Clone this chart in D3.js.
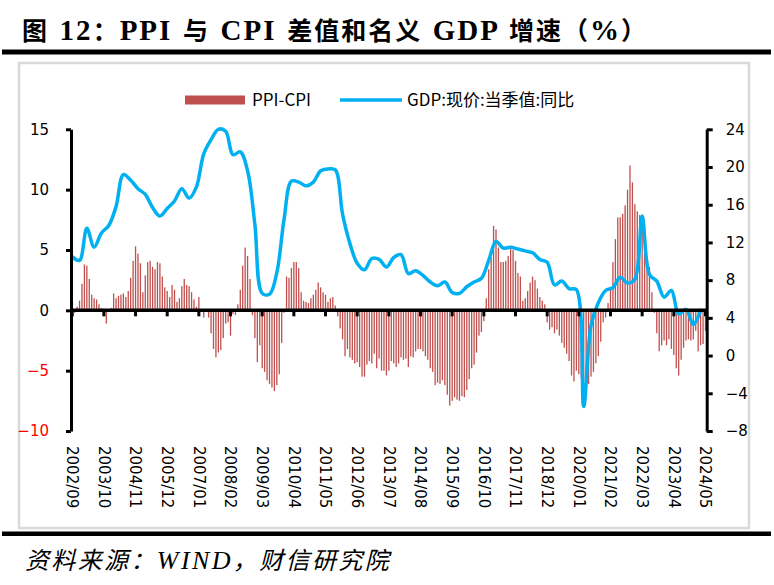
<!DOCTYPE html>
<html><head><meta charset="utf-8">
<script src="https://cdn.jsdelivr.net/npm/d3@7"></script>
<style>html,body{margin:0;padding:0;background:#fff;} svg{display:block;}</style>
</head><body>
<svg id="chart" width="774" height="585"></svg>
<script>
// ---------- data ----------
const xTickLabels = ["2002/09","2003/10","2004/11","2005/12","2007/01","2008/02","2009/03","2010/04","2011/05","2012/06","2013/07","2014/08","2015/09","2016/10","2017/11","2018/12","2020/01","2021/02","2022/03","2023/04","2024/05"];
const leftTicks = [-10, -5, 0, 5, 10, 15];
const rightTicks = [-8, -4, 0, 4, 8, 12, 16, 20, 24];
// PPI-CPI monthly, 2002/09 .. 2024/05
const ppiCpi = [
  -0.3,-0.2,0.3,0.8,
  2.2,3.8,3.7,2.6,1.3,1.0,0.9,0.5,0.2,-0.4,-1.1,-0.1,
  0.2,1.4,1.0,1.2,1.3,1.4,1.1,1.6,2.7,4.1,5.3,4.7,
  3.9,1.5,2.9,4.0,4.1,3.6,3.4,4.0,3.9,2.8,1.9,1.6,
  1.1,2.1,1.7,0.7,1.0,2.0,2.6,2.1,2.0,1.5,0.9,0.3,
  1.1,-0.1,-0.6,-0.1,-0.6,-1.9,-3.2,-3.9,-3.5,-3.3,-2.3,-1.1,
  -1.0,-2.1,-0.3,-0.4,0.5,1.7,3.7,5.2,4.5,2.6,-0.4,-2.3,
  -4.3,-2.9,-4.8,-5.1,-5.8,-6.1,-6.4,-6.7,-6.2,-5.3,-2.7,-0.2,
  2.8,2.7,3.5,4.0,4.0,3.5,1.5,0.8,0.7,0.6,1.0,1.3,
  1.7,2.3,1.9,1.5,1.3,0.7,1.0,1.1,0.4,-0.5,-1.5,-2.4,
  -3.8,-3.2,-3.9,-4.1,-4.4,-4.3,-4.7,-5.5,-5.5,-4.5,-4.2,-4.4,
  -3.6,-4.8,-4.0,-5.0,-5.0,-5.4,-5.0,-4.2,-4.4,-4.7,-4.4,-3.9,
  -4.1,-4.0,-4.7,-3.8,-3.9,-3.4,-3.2,-3.2,-3.4,-3.8,-4.1,-4.8,
  -5.1,-6.2,-6.0,-6.1,-5.8,-6.2,-7.0,-7.9,-7.5,-7.2,-7.4,-7.5,
  -7.1,-7.2,-6.6,-5.7,-4.8,-4.5,-3.5,-2.1,-1.8,-0.9,1.0,3.4,
  4.4,7.0,6.7,5.2,4.0,4.0,4.1,4.5,5.3,5.0,4.1,3.1,
  2.8,0.8,1.0,1.6,2.3,2.8,2.5,1.8,1.1,0.8,0.5,-1.0,
  -1.6,-1.4,-1.9,-1.6,-2.1,-2.7,-3.1,-3.6,-4.2,-5.4,-5.9,-5.0,
  -5.3,-5.6,-5.8,-6.4,-6.1,-5.5,-5.1,-4.4,-3.8,-2.6,-1.0,-0.6,
  0.6,1.9,4.0,5.9,7.7,7.7,8.0,8.7,10.0,12.0,10.6,8.8,
  8.2,7.9,6.8,5.9,4.3,3.6,1.5,-0.2,-1.9,-3.4,-2.9,-2.5,
  -2.9,-2.4,-3.2,-3.7,-4.8,-5.4,-4.1,-3.1,-2.5,-2.4,-2.5,-2.4,
  -1.7,-3.4,-2.9,-2.8,-1.7
];
// GDP nominal, quarterly yoy, 2002Q3 .. 2024Q1
const gdpNominal = [
  10.5,10.1,
  13.5,11.5,13.0,13.8,
  15.8,19.2,18.6,17.7,
  17.1,15.7,14.8,15.6,
  16.4,17.7,16.7,17.9,
  21.4,22.9,24.0,23.8,
  21.3,21.6,19.6,13.9,
  6.6,6.5,8.8,14.5,
  18.5,18.4,18.0,18.4,
  19.6,19.8,19.7,15.0,
  11.9,9.8,9.1,10.3,
  10.2,9.4,10.4,10.7,
  8.7,9.0,8.5,7.8,
  7.4,7.8,6.7,6.6,
  7.3,7.8,8.2,10.1,
  12.1,11.4,11.5,11.3,
  11.1,10.9,10.2,9.9,
  7.5,7.9,7.1,7.0,
  -5.4,3.2,5.6,6.9,
  7.2,8.3,7.7,8.1,
  14.8,8.6,7.9,6.2,
  6.9,4.4,4.9,3.3,
  4.8
];
const months = d3.timeMonth.range(new Date(2002, 8, 1), new Date(2024, 5, 1)).map(d3.timeFormat("%Y/%m"));
const gdpMonths = months.filter((d, i) => i % 3 === 0);

// ---------- layout ----------
const svg = d3.select("#chart");
const plotL = 71, plotR = 706.7, plotT = 129.3, plotB = 431;
const BAR = "#c0504d", LINE = "#00b0f0";
const tickFont = "'DejaVu Sans', Verdana, sans-serif";
const CJK = "'Noto Sans CJK SC', sans-serif";
const SERIF = "'Liberation Serif', 'Times New Roman', serif";

// frame
svg.append("rect").attr("x", 2).attr("y", 49.5).attr("width", 769).attr("height", 5).attr("fill", "#000");
svg.append("rect").attr("x", 19).attr("y", 63).attr("width", 730).attr("height", 465)
  .attr("fill", "none").attr("stroke", "#d9d9d9").attr("stroke-width", 2.5);
svg.append("rect").attr("x", 2).attr("y", 531.5).attr("width", 769).attr("height", 4.5).attr("fill", "#000");

function fitWords(sel, target, ls) {
  sel.attr("letter-spacing", ls + "px");
  const spaces = (sel.text().match(/ /g) || []).length;
  const w = sel.node().getComputedTextLength();
  if (spaces > 0) sel.attr("word-spacing", ((target - w) / spaces) + "px");
}
function fitLetters(sel, target) {
  const n = sel.text().length;
  const w = sel.node().getComputedTextLength();
  sel.attr("letter-spacing", ((target - w) / n) + "px");
}

// title
const title = svg.append("text").attr("x", 22).attr("y", 40).attr("font-weight", "bold").attr("fill", "#000");
const tParts = [["图", "cjk"], [" 12", "lat"], ["：", "cjk"], ["PPI ", "lat"], ["与", "cjk"], [" CPI ", "lat"],
  ["差值和名义", "cjk"], [" GDP ", "lat"], ["增速（", "cjk"], ["%", "lat"], ["）", "cjk"]];
tParts.forEach(([t, k]) => {
  title.append("tspan").text(t)
    .attr("font-family", k === "cjk" ? CJK : SERIF)
    .attr("font-size", k === "cjk" ? 25 : 29);
});
fitWords(title, 626, 2);

// source
const src = svg.append("text").attr("x", 25).attr("y", 569).attr("font-style", "italic").attr("fill", "#000");
[["资料来源：", "cjk"], ["WIND", "lat"], ["，财信研究院", "cjk"]].forEach(([t, k]) => {
  src.append("tspan").text(t)
    .attr("font-family", k === "cjk" ? CJK : SERIF)
    .attr("font-size", k === "cjk" ? 24 : 26);
});
fitLetters(src, 366);

// scales
const x = d3.scaleBand().domain(months).range([plotL, plotR]).padding(0);
const xc = d => x(d) + x.bandwidth() / 2;
const yL = d3.scaleLinear().domain([-10, 15]).range([plotB, plotT]);
const yR = d3.scaleLinear().domain([-8, 24]).range([plotB, plotT]);

// bars
svg.append("g").selectAll("rect").data(months).join("rect")
  .attr("x", d => xc(d) - 0.65)
  .attr("width", 1.3)
  .attr("y", (d, i) => Math.min(yL(0), yL(ppiCpi[i])))
  .attr("height", (d, i) => Math.abs(yL(ppiCpi[i]) - yL(0)))
  .attr("fill", BAR);

// GDP line
const line = d3.line().x(d => xc(d.m)).y(d => yR(d.v)).curve(d3.curveCatmullRom.alpha(0.5));
svg.append("path").datum(gdpMonths.map((m, i) => ({ m, v: gdpNominal[i] })))
  .attr("d", line).attr("fill", "none").attr("stroke", LINE).attr("stroke-width", 3.5)
  .attr("stroke-linejoin", "round").attr("stroke-linecap", "round");

// axes
function styleAxis(g, w) {
  g.select(".domain").attr("stroke", "#000").attr("stroke-width", w);
  g.selectAll(".tick line").attr("stroke", "#000").attr("stroke-width", 3);
  g.selectAll(".tick text").attr("font-family", tickFont).attr("font-size", 15).attr("fill", "#000");
}
const tickMonths = months.filter(m => xTickLabels.includes(m));
const gx = svg.append("g").attr("transform", `translate(0,${yL(0)})`)
  .call(d3.axisBottom(x).tickValues(tickMonths).tickSize(6).tickSizeOuter(0).tickFormat(""));
styleAxis(gx, 3.5);
gx.select(".domain").attr("d", `M${plotL},0H${plotR}`);

const gxl = svg.append("g").attr("transform", `translate(0,${plotB})`)
  .call(d3.axisBottom(x).tickValues(tickMonths).tickSize(0).tickSizeOuter(0).tickFormat(d => d));
gxl.select(".domain").remove();
gxl.selectAll(".tick text")
  .attr("font-family", tickFont).attr("font-size", 15).attr("fill", "#000")
  .attr("transform", "rotate(90)").attr("x", 15).attr("y", 0).attr("dy", "0.35em")
  .attr("text-anchor", "start");

const gl = svg.append("g").attr("transform", `translate(${plotL},0)`)
  .call(d3.axisLeft(yL).tickValues(leftTicks).tickSize(5).tickSizeOuter(0).tickPadding(17));
styleAxis(gl, 3);
gl.selectAll(".tick text").attr("fill", d => d < 0 ? "#ff0000" : "#000");

const gr = svg.append("g").attr("transform", `translate(${plotR},0)`)
  .call(d3.axisRight(yR).tickValues(rightTicks).tickSize(6).tickSizeOuter(0).tickPadding(13));
styleAxis(gr, 3);

// legend
const lg = svg.append("g").attr("font-family", CJK).attr("font-size", 17);
lg.append("rect").attr("x", 185).attr("y", 95.5).attr("width", 60).attr("height", 9).attr("fill", BAR);
lg.append("text").attr("x", 252).attr("y", 100).attr("dy", "0.35em").text("PPI-CPI");
lg.append("line").attr("x1", 340).attr("x2", 402).attr("y1", 100).attr("y2", 100)
  .attr("stroke", LINE).attr("stroke-width", 3.5);
lg.append("text").attr("x", 407).attr("y", 100).attr("dy", "0.35em").text("GDP:现价:当季值:同比");
</script>
</body></html>
